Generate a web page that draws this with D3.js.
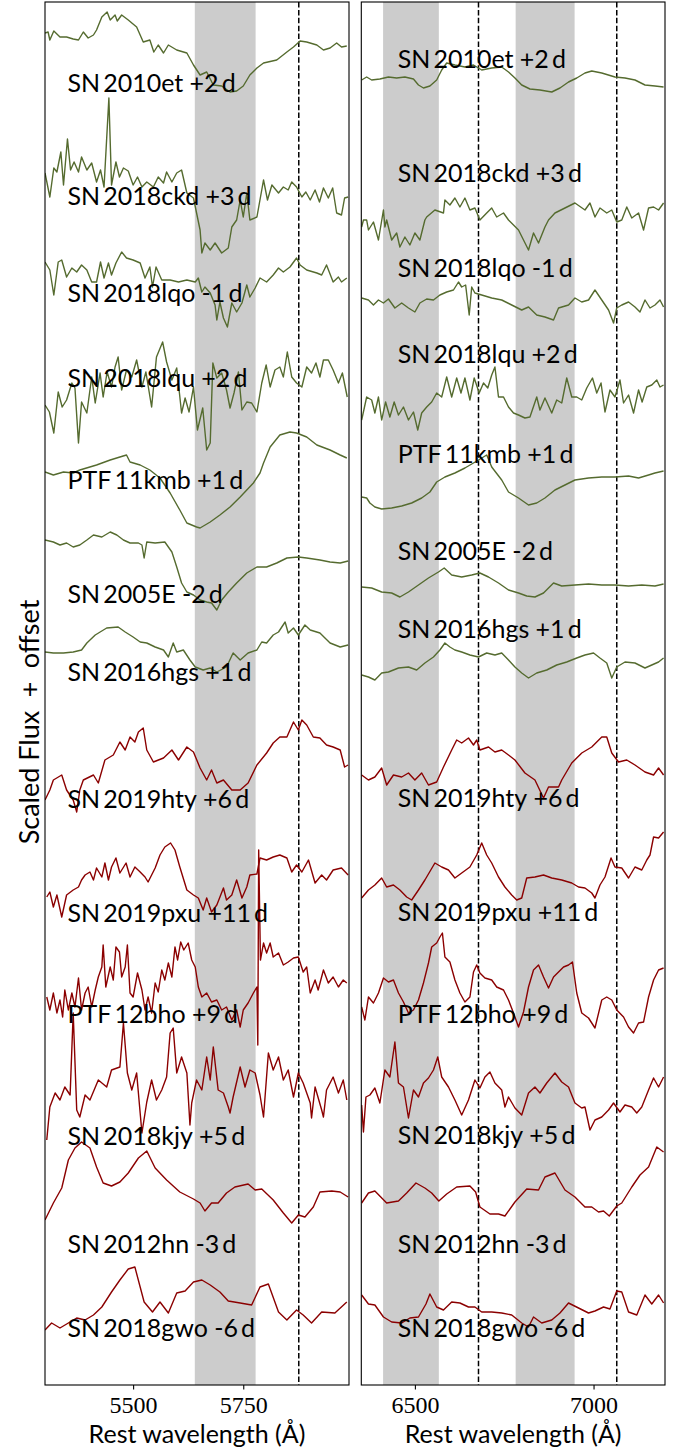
<!DOCTYPE html>
<html><head><meta charset="utf-8">
<script src="https://cdn.jsdelivr.net/npm/d3@7"></script>
<style>body{margin:0;background:#fff;} svg{display:block}</style>
</head><body><svg id="c" width="680" height="1453"></svg>
<script>
// ---------- DATA ----------
const names = ["SN 2010et","SN 2018ckd","SN 2018lqo","SN 2018lqu","PTF 11kmb","SN 2005E","SN 2016hgs","SN 2019hty","SN 2019pxu","PTF 12bho","SN 2018kjy","SN 2012hn","SN 2018gwo"];
const phases = ["+2","+3","-1","+2","+1","-2","+1","+6","+11","+9","+5","-3","-6"];
const groups = ["g","g","g","g","g","g","g","r","r","r","r","r","r"];
const labelYLeft  = [129.3,118,108.3,99.8,89.6,78.2,70.4,57.7,46.3,36.2,24,13.2,4.8];
const labelYRight = [131.7,120.3,110.8,102.2,92.2,82.5,74.7,57.8,46.4,36.2,24.1,13.2,4.8];
const bandsLeft = [[5640,5778]];
const bandsRight = [[6411,6567],[6782,6947]];
const linesLeft = [5876];
const linesRight = [6678,7065];
const ticksLeft = [5500,5750];
const ticksRight = [6500,7000];

// left panel spectra: [wavelength (Å), scaled flux + offset]
const L_2010et = [[5300,135.2],[5307,135.3],[5311,134.5],[5320,135.4],[5334,134.8],[5349,134.8],[5364,134.6],[5376,134.5],[5387,135.3],[5398,134.7],[5410,135],[5417,135.5],[5429,136.8],[5441,137.3],[5448,136.5],[5459,137],[5464,136.4],[5474,137],[5489,136.5],[5508,135.8],[5523,134.3],[5538,134.5],[5547,133.3],[5557,134],[5569,133.2],[5580,134],[5599,133.5],[5622,133.2],[5637,132],[5652,131],[5667,131.3],[5682,130],[5701,129.9],[5720,129.3],[5735,129.4],[5750,129.9],[5765,131],[5781,131.7],[5796,132.2],[5826,132.5],[5849,133.3],[5864,133.8],[5879,134.4],[5894,134.3],[5917,134],[5932,133.5],[5947,133.7],[5962,134.2],[5973,133.8],[5985,133.9]];
const L_2018ckd = [[5300,121.2],[5311,118.8],[5320,121.7],[5327,121.3],[5336,123.3],[5342,120],[5351,124.6],[5358,121.5],[5366,122.3],[5376,121.3],[5383,122.8],[5395,121.5],[5406,122.2],[5417,120.3],[5426,121.5],[5434,119.8],[5445,128.7],[5451,120],[5461,122.3],[5469,120.8],[5478,121.7],[5489,121.4],[5500,120],[5510,120.8],[5520,119.8],[5531,120.3],[5546,119.8],[5557,120.8],[5569,120.2],[5576,121.3],[5588,120.3],[5599,121.2],[5610,121.5],[5622,119.2],[5637,118.7],[5652,115.5],[5656,113.2],[5663,114.2],[5675,113.5],[5686,114.2],[5701,113.2],[5716,113.7],[5724,115.8],[5735,116.5],[5743,118.5],[5750,116.8],[5758,119.2],[5765,116.5],[5781,116.8],[5796,120.5],[5805,118.5],[5815,120],[5830,119.2],[5841,119.8],[5852,119.5],[5860,120.3],[5871,119.8],[5883,118.8],[5892,119.3],[5902,118.5],[5913,119.5],[5923,118.3],[5932,119.7],[5943,118.7],[5953,119.7],[5962,117.2],[5973,117],[5980,118.7],[5988,118.8]];
const L_2018lqo = [[5300,112.3],[5311,111.5],[5320,109],[5330,112.3],[5338,112.5],[5349,110.8],[5361,111.7],[5372,111.3],[5383,112],[5395,111.5],[5406,110.3],[5417,110.3],[5426,112.3],[5434,110.7],[5444,112.2],[5451,111],[5461,112.2],[5474,113.3],[5485,112.7],[5500,112.5],[5516,112.2],[5527,110.7],[5538,111.8],[5544,109.8],[5552,111.8],[5565,110.5],[5584,110.5],[5603,110.3],[5622,110.5],[5641,110.3],[5648,110.7],[5656,109.3],[5663,109.8],[5675,109.2],[5686,108],[5690,106.5],[5697,108.3],[5705,106.7],[5714,105.8],[5724,108.2],[5735,107.3],[5747,108.2],[5758,110],[5765,108.8],[5777,109.7],[5788,110.7],[5803,110.3],[5818,111],[5830,111.7],[5841,111.3],[5856,111.8],[5871,112.7],[5879,112],[5894,111.5],[5917,111.2],[5928,111],[5939,112],[5954,110.3],[5966,110.8],[5973,110.3],[5985,110.7]];
const L_2018lqu = [[5300,98],[5310,97.3],[5320,95.2],[5330,99.3],[5339,97.8],[5349,98.5],[5361,100.2],[5368,99.7],[5376,94.2],[5383,98.3],[5395,97.2],[5406,100.8],[5414,98.2],[5425,101.2],[5432,98.8],[5441,101.3],[5451,99.8],[5459,101.8],[5466,102.8],[5474,99.5],[5485,101.5],[5497,100.8],[5508,102.5],[5520,99.8],[5529,101.3],[5542,97.8],[5553,102.8],[5567,104.3],[5576,102.3],[5588,100.5],[5599,101.7],[5610,97.2],[5618,98.7],[5627,97.3],[5637,99.8],[5646,95.5],[5658,97.7],[5667,93.5],[5675,94.2],[5681,102.2],[5690,100.7],[5701,101.2],[5712,99.5],[5720,97.7],[5729,99.2],[5739,101.3],[5747,97.5],[5758,98.3],[5769,98.2],[5781,97.3],[5792,100.2],[5802,102],[5811,99.8],[5822,101.5],[5833,101.8],[5841,100.8],[5850,103.3],[5860,100.8],[5871,100.2],[5883,99.8],[5894,101.8],[5905,101.2],[5915,102.2],[5924,100.8],[5932,102.5],[5943,102.5],[5954,101.5],[5966,100.2],[5975,101.2],[5986,98.8]];
const L_11kmb = [[5300,91.3],[5319,91],[5342,91.3],[5364,91.2],[5379,91.5],[5417,92],[5448,92.5],[5470,92.8],[5485,93],[5493,92.3],[5516,92],[5538,91.5],[5561,90.7],[5584,89.2],[5606,87.5],[5622,86.2],[5644,85.8],[5652,85.7],[5675,86.3],[5697,87],[5720,87.8],[5743,88.8],[5773,90.2],[5788,91.2],[5796,92.2],[5811,93.8],[5833,95],[5856,95.3],[5871,95.2],[5894,94.8],[5917,94],[5947,93.5],[5970,93],[5985,92.7]];
const L_2005E = [[5300,84.5],[5319,84.3],[5334,84],[5349,84.2],[5364,83.8],[5379,84],[5395,84.5],[5410,85],[5429,84.8],[5448,85.3],[5463,85],[5478,84.5],[5493,84.2],[5512,84.2],[5520,84],[5525,82.7],[5531,84.3],[5550,84.2],[5572,84.3],[5588,83.3],[5599,81.8],[5610,80.2],[5622,79.3],[5637,79],[5652,78.5],[5667,78.3],[5678,78.2],[5690,77.5],[5701,78.5],[5716,79.3],[5735,80.2],[5758,81.2],[5781,81.8],[5803,81.8],[5826,82.2],[5849,82.7],[5875,82.8],[5894,82.7],[5924,82.5],[5947,82.3],[5970,82.2],[5988,82.4]];
const L_2016hgs = [[5300,73.3],[5319,73.2],[5342,73.2],[5364,73.3],[5383,73.5],[5395,74.2],[5414,75],[5440,75.7],[5466,75.8],[5482,75.3],[5500,74.8],[5516,74.3],[5531,74.2],[5550,73.8],[5569,73.5],[5580,72.8],[5591,74.2],[5599,73.3],[5614,73.5],[5629,72.5],[5641,71.8],[5659,71.5],[5675,71.7],[5690,71.3],[5712,71.8],[5727,73.2],[5743,72.5],[5761,73.2],[5781,73.5],[5792,74.3],[5803,74.2],[5818,75],[5830,75.3],[5845,76.3],[5852,75.2],[5864,75.7],[5875,75],[5890,76],[5902,75.5],[5924,75.2],[5947,74.2],[5970,73.8],[5988,74]];
const L_2019hty = [[5300,58.5],[5311,59.5],[5319,60.5],[5338,61],[5349,59.5],[5364,58.5],[5372,57.3],[5379,59.5],[5387,60.5],[5410,61],[5421,60.2],[5436,62.5],[5455,63],[5470,64.3],[5482,63.5],[5493,64.8],[5504,64.3],[5512,65.3],[5523,65.7],[5531,63.5],[5546,62.3],[5569,62.7],[5588,63.5],[5603,62.5],[5622,63.8],[5637,63.3],[5652,61.7],[5667,60.5],[5678,61.5],[5690,60.2],[5705,60.5],[5724,59.5],[5743,59.5],[5761,60.2],[5781,62],[5803,63.2],[5818,64.2],[5833,64.8],[5849,64.8],[5864,66.3],[5875,65.5],[5883,66.5],[5894,66],[5909,64.8],[5924,64.7],[5939,64],[5954,63.8],[5970,63.5],[5980,61.8],[5988,62]];
const L_2019pxu = [[5304,48.8],[5311,49.3],[5319,47.8],[5327,49],[5338,46.8],[5349,49],[5364,49.5],[5376,49.8],[5383,50.5],[5391,51],[5402,51.3],[5410,50.5],[5417,51.7],[5429,50.8],[5436,52.2],[5444,50.5],[5451,51.8],[5461,52.7],[5470,51.2],[5484,52.2],[5493,50.8],[5504,51.8],[5516,51.3],[5527,50.8],[5534,50.3],[5550,51.7],[5561,53],[5572,53.8],[5585,54.2],[5595,53.5],[5606,51.8],[5622,49.5],[5637,49],[5648,48.7],[5659,47.5],[5667,48.7],[5678,47.3],[5690,48],[5705,49.7],[5712,48.5],[5724,49],[5735,50.5],[5747,48.7],[5758,49.8],[5765,51],[5781,51.1],[5788,52.7],[5803,52.5],[5818,52.8],[5833,53],[5849,52.7],[5860,51.3],[5871,52],[5883,51.3],[5898,52.5],[5913,50.2],[5928,51],[5939,50.5],[5954,51.5],[5973,51.7],[5988,51]];
const L_12bho = [[5304,38.8],[5311,37.5],[5319,39.2],[5327,37.2],[5334,38.5],[5340,36.8],[5345,39.5],[5353,37.5],[5361,39.2],[5368,37.8],[5376,40.7],[5383,37.5],[5391,39.2],[5398,39.8],[5406,37.8],[5414,39.5],[5421,40.8],[5429,41.8],[5432,44],[5438,39.8],[5448,41.8],[5455,40.5],[5461,43.8],[5469,43.3],[5474,40.8],[5482,41.8],[5487,44],[5493,39.2],[5500,38.8],[5510,41.2],[5520,39.5],[5527,37.5],[5534,38.8],[5542,37.2],[5550,40.2],[5557,39.3],[5565,41.5],[5572,40.5],[5580,42.2],[5588,40.8],[5595,43.8],[5601,42.5],[5608,44.3],[5615,43.5],[5625,44.2],[5633,42.5],[5641,41.8],[5648,39.8],[5656,38.8],[5667,39.2],[5678,38.3],[5690,38.5],[5701,37.5],[5712,37.8],[5724,36.5],[5735,37.5],[5743,35.8],[5750,37.5],[5761,38.2],[5773,39.2],[5781,39.8],[5783,34],[5785,53.5],[5789,42.5],[5796,44.2],[5803,43.2],[5811,44.2],[5818,42.8],[5830,43.2],[5841,42],[5852,42.3],[5864,42.7],[5875,42.8],[5886,41.3],[5894,41.8],[5902,39.2],[5913,40.5],[5920,39.5],[5932,41.5],[5943,40.2],[5954,40.8],[5966,39.8],[5977,40.5],[5985,40.2]];
const L_2018kjy = [[5304,24.5],[5311,27.8],[5323,29.2],[5334,28.5],[5345,29.8],[5357,29],[5364,37.2],[5372,27.5],[5379,26.8],[5391,29],[5402,28.5],[5421,30.5],[5440,29.8],[5451,31.5],[5470,31.8],[5478,36.2],[5487,31.2],[5497,29.5],[5508,31.2],[5520,25.2],[5531,28.3],[5542,30.5],[5553,28.5],[5565,29.5],[5576,30.8],[5584,35.2],[5591,35.7],[5599,31.2],[5610,32.8],[5622,31.2],[5629,26],[5633,28.2],[5644,30.5],[5656,29.5],[5667,32.8],[5675,30.5],[5682,33.8],[5693,29.5],[5705,29.2],[5716,27.8],[5720,27.2],[5727,28.8],[5743,31.8],[5754,29.8],[5765,31.5],[5777,31.2],[5788,29],[5796,26.8],[5807,33.2],[5818,31.5],[5830,32.8],[5841,30.5],[5852,31.5],[5864,28.8],[5875,31.2],[5886,30.2],[5902,28.2],[5905,26.7],[5913,29.8],[5928,27.5],[5932,26.8],[5939,29.5],[5954,30.8],[5966,29.2],[5977,30.5],[5985,28.5]];
const L_2012hn = [[5300,16.5],[5319,18.2],[5338,19.7],[5353,22.5],[5368,23.7],[5383,24.3],[5402,23.7],[5417,21.8],[5432,20.2],[5451,19.9],[5470,20.3],[5489,21.2],[5512,22.7],[5531,23.4],[5550,21.7],[5576,20.5],[5606,19.3],[5637,18.6],[5652,18.2],[5663,17.4],[5678,18.2],[5693,18.2],[5712,19.2],[5731,19.8],[5761,20.1],[5777,19.5],[5792,19.6],[5818,18.5],[5841,17.2],[5860,16.2],[5875,17],[5890,16.8],[5909,17.8],[5924,19.3],[5951,19.4],[5970,19.3],[5988,18.8]];
const L_2018gwo = [[5300,5.5],[5315,6.2],[5334,5.7],[5353,6.2],[5372,6.7],[5391,6.5],[5410,7],[5429,7.8],[5451,9.3],[5470,10.5],[5489,11.6],[5504,11.8],[5516,9.8],[5525,8.3],[5544,7.3],[5561,8.3],[5580,7.2],[5599,9.2],[5618,9.4],[5637,10.3],[5656,10.5],[5675,10],[5697,9.3],[5716,8.4],[5743,8.2],[5769,8],[5788,9.8],[5807,10.1],[5830,7.3],[5849,6.5],[5871,7.5],[5886,7],[5905,6.2],[5928,7.3],[5958,7.2],[5985,8.3]];

// right panel spectra
const R_2010et = [[6351,130.5],[6365,130.8],[6379,130.5],[6402,130.6],[6426,130.8],[6449,130.7],[6472,130.8],[6496,130.6],[6510,130],[6524,129.7],[6542,129.9],[6561,130.5],[6575,131.5],[6589,132.2],[6612,132],[6640,131.8],[6664,132],[6687,131.5],[6715,131.7],[6743,131.8],[6762,131.3],[6780,130.7],[6799,130],[6822,129.6],[6850,129.5],[6883,129.3],[6906,129.7],[6930,130.3],[6953,130.7],[6976,131.2],[6995,131.4],[7023,131.2],[7060,130.8],[7088,130.7],[7116,130.5],[7144,130],[7172,129.9],[7196,129.8]];
const R_2018ckd = [[6351,115.8],[6356,116.5],[6365,116.5],[6370,115.5],[6384,116.3],[6398,114.5],[6412,117.5],[6416,115.8],[6421,116.5],[6435,114.5],[6449,115.2],[6458,113.8],[6472,114.8],[6486,114],[6500,115.2],[6514,114.5],[6528,116.5],[6533,116.8],[6556,117.5],[6580,117.2],[6584,118.5],[6598,118],[6612,118.7],[6626,117.8],[6640,118.7],[6654,117.5],[6668,117.7],[6682,116.5],[6701,117.2],[6715,117.7],[6729,116.8],[6748,117.2],[6762,116.5],[6776,116],[6790,115.5],[6804,114.5],[6818,113.5],[6832,115.2],[6846,114.2],[6864,115.8],[6874,116.5],[6892,117.2],[6920,117.7],[6948,118.2],[6976,117.5],[6990,118.2],[7004,116.8],[7018,117.7],[7037,117.2],[7051,117.5],[7065,116.3],[7079,116.5],[7093,117.8],[7107,116.7],[7126,117.2],[7140,115.5],[7154,117.7],[7168,117.8],[7182,117.5],[7196,118.2]];
const R_2018lqo = [[6351,108.7],[6370,108.5],[6384,108],[6398,108.5],[6412,108.2],[6426,108.6],[6444,107.7],[6463,108.2],[6482,107.7],[6500,107.3],[6514,108.2],[6533,108.6],[6552,108.5],[6570,109],[6589,109.3],[6608,109.5],[6622,110.3],[6631,109.8],[6642,110],[6652,107],[6659,109.8],[6668,109.2],[6687,109],[6715,108.7],[6743,108.5],[6771,108],[6799,107.5],[6818,107.8],[6841,107],[6864,106.8],[6888,106.5],[6902,107.7],[6930,108],[6948,108.7],[6967,108.3],[6986,108.5],[7004,109.5],[7023,108.5],[7042,107.5],[7056,106.2],[7065,107.7],[7079,108],[7098,108.3],[7116,107.8],[7130,107.3],[7144,108.5],[7158,107.7],[7172,108],[7186,108.5],[7196,107.8]];
const R_2018lqu = [[6351,96.5],[6365,98.8],[6379,98.5],[6388,97.2],[6398,98.8],[6407,96.5],[6418,98.3],[6430,96.8],[6442,98.3],[6454,97],[6468,97.8],[6482,96.5],[6496,97.3],[6508,95.5],[6519,97.2],[6533,97.8],[6547,98.3],[6561,99.2],[6575,98.8],[6589,100.8],[6603,98.8],[6617,100.7],[6629,99.2],[6640,100.7],[6654,98.5],[6666,100.7],[6680,99.2],[6692,100.2],[6704,99.7],[6715,101],[6724,101.8],[6734,98.8],[6748,98.8],[6762,97.8],[6776,97.2],[6790,97],[6808,96.7],[6822,96.8],[6841,98.8],[6850,97.5],[6864,98.7],[6883,97.2],[6897,98.5],[6911,98.2],[6925,100.7],[6939,98.8],[6953,98.8],[6967,98.5],[6981,99.7],[6997,100.7],[7009,99.2],[7021,100.2],[7032,97.3],[7046,99.5],[7060,98.8],[7074,100.5],[7084,98.2],[7098,99],[7112,97.2],[7126,99.5],[7136,98.3],[7149,99.8],[7163,100],[7177,100.5],[7186,99.8],[7196,100]];
const R_11kmb = [[6351,88.8],[6365,88.7],[6374,88.2],[6388,87.8],[6407,87.6],[6435,87.7],[6463,87.9],[6491,88.2],[6519,88.7],[6542,89.3],[6561,90.3],[6584,90.8],[6612,91.2],[6640,91.7],[6664,92.2],[6678,92.5],[6701,93],[6715,91.8],[6743,90.5],[6762,89.3],[6790,88.7],[6818,88],[6841,88.2],[6864,88.7],[6892,89.5],[6920,90],[6948,90.5],[6986,90.7],[7023,90.8],[7060,90.8],[7098,90.9],[7126,90.7],[7154,91],[7172,91.2],[7196,91.4]];
const R_2005E = [[6351,79.8],[6379,79.7],[6407,79.3],[6435,79.2],[6458,78.8],[6482,79.3],[6510,80],[6538,80.7],[6566,81.3],[6582,81.7],[6603,81],[6631,80.8],[6659,81],[6682,81.2],[6706,80.8],[6734,80.2],[6762,79.5],[6790,79.2],[6813,78.9],[6836,78.8],[6860,79.2],[6888,80.2],[6911,79.9],[6948,80],[6986,80.1],[7023,80],[7060,80],[7098,79.9],[7135,80],[7172,79.9],[7196,80.1]];
const R_2016hgs = [[6351,71],[6370,70.8],[6388,70.5],[6407,71.2],[6426,71.3],[6454,71.7],[6482,71.8],[6505,71.5],[6528,72.2],[6552,72.8],[6570,73.5],[6584,74.2],[6598,73.8],[6612,73.5],[6631,73.3],[6654,73],[6678,72.8],[6701,73.2],[6724,73],[6743,73.2],[6762,72.5],[6780,71.8],[6799,71.2],[6818,70.7],[6841,71.2],[6869,71.5],[6897,72],[6925,72.3],[6953,72.7],[6976,73],[7000,73.2],[7018,72.7],[7037,72.2],[7051,70.7],[7065,71.8],[7088,72.3],[7116,72.2],[7144,71.7],[7163,72],[7182,72.3],[7196,72.7]];
const R_2019hty = [[6351,61],[6370,60.5],[6388,60.8],[6407,61.7],[6421,60],[6440,61],[6463,60.8],[6482,61.2],[6500,60.5],[6519,61.2],[6538,60],[6561,60.3],[6580,61.8],[6603,63.5],[6617,64.5],[6631,64.2],[6650,64.7],[6664,64],[6673,64.5],[6682,63.5],[6706,63.8],[6724,63.3],[6743,63.5],[6762,63],[6780,62.5],[6808,61.2],[6836,60.5],[6860,58.7],[6874,59.8],[6902,59.8],[6911,60.5],[6939,62.2],[6967,63.2],[6995,63.8],[7023,64.8],[7037,64.8],[7051,63.2],[7070,62.3],[7093,62.5],[7116,62],[7144,61.3],[7168,61],[7182,61.7],[7196,61]];
const R_2019pxu = [[6351,48.7],[6370,49.5],[6388,50],[6407,50.7],[6421,49.8],[6440,50],[6458,49.5],[6477,48.8],[6491,48.5],[6510,49.5],[6528,50.5],[6556,52.2],[6575,51.8],[6594,51.5],[6612,50.7],[6631,51.2],[6654,51.8],[6673,53],[6687,54.2],[6701,53],[6715,52.2],[6734,50.8],[6752,49.8],[6771,49],[6785,48.5],[6799,48.7],[6813,50.7],[6836,50.8],[6860,51],[6883,50.7],[6911,50.5],[6939,50.2],[6958,49.8],[6976,49.7],[6995,49.2],[7004,48.7],[7018,50],[7032,50.8],[7049,52.7],[7060,51.8],[7079,51.7],[7098,50.7],[7116,51.8],[7135,51.5],[7149,52.5],[7158,53],[7168,54.8],[7182,54.7],[7196,55.3]];
const R_12bho = [[6351,37.8],[6360,36.5],[6370,38.8],[6384,38.2],[6398,39.2],[6412,40.7],[6426,40.3],[6440,40.5],[6454,39.2],[6468,38.3],[6482,37.2],[6496,37.5],[6510,38.5],[6524,40.2],[6538,42.2],[6547,43.8],[6561,44.2],[6570,44.8],[6577,45.2],[6584,42.8],[6598,42.3],[6612,40.5],[6626,39.2],[6640,38.3],[6654,38.8],[6664,41.3],[6673,42],[6682,41.2],[6696,40.7],[6715,40.5],[6729,39.8],[6748,39.5],[6762,38.5],[6776,37.2],[6790,35.8],[6804,37.3],[6818,39.8],[6832,41.5],[6846,42],[6860,40.8],[6874,39.7],[6888,40.8],[6902,41.3],[6916,41.8],[6930,42],[6941,42.3],[6953,39.2],[6967,37.2],[6986,36.7],[7004,35.7],[7023,38.5],[7037,38.8],[7051,38.5],[7065,37.5],[7084,36.8],[7098,35.8],[7112,35.2],[7126,36.2],[7140,36.3],[7154,38.8],[7168,40.5],[7182,41.5],[7196,41.7]];
const R_2018kjy = [[6351,28],[6356,25.3],[6363,28.8],[6374,29],[6388,29.7],[6402,28.2],[6416,31.5],[6430,30.8],[6444,34.3],[6454,30.2],[6468,29.8],[6482,26.7],[6496,29.5],[6510,28.8],[6524,30.2],[6538,30.7],[6552,31.5],[6564,32.8],[6575,30.8],[6594,29.8],[6612,28.5],[6631,27],[6650,28.5],[6668,30.5],[6682,29.7],[6696,30.8],[6710,31.3],[6724,30.2],[6743,29.5],[6752,27.8],[6762,28.8],[6780,27.7],[6799,27],[6818,29.2],[6836,29.8],[6850,29.2],[6869,30.2],[6892,31.2],[6911,30.3],[6930,29.8],[6948,28.2],[6967,27.7],[6976,27.8],[6990,25.5],[7004,26.5],[7023,26.8],[7042,27.5],[7056,28.2],[7074,27.3],[7088,28],[7107,27.8],[7121,27.2],[7135,27.8],[7154,29.5],[7168,30.7],[7182,29.8],[7196,30.8]];
const R_2012hn = [[6351,18.2],[6370,19.2],[6388,19.4],[6421,18.2],[6454,18.4],[6477,19.2],[6503,20.2],[6528,19.7],[6547,19.2],[6567,18.4],[6589,19.1],[6617,19.8],[6654,19.9],[6670,19.3],[6682,17.8],[6710,17.1],[6734,17.1],[6752,16.9],[6780,18.3],[6813,19.6],[6846,19.5],[6864,20.8],[6892,21.2],[6920,19.5],[6948,18.8],[6976,17.8],[6995,17.8],[7014,17.3],[7028,17.4],[7044,16.9],[7065,17.9],[7079,18.2],[7107,19.8],[7130,21],[7154,21.8],[7177,23.8],[7196,23.3]];
const R_2018gwo = [[6351,9],[6370,8.1],[6388,8],[6412,6.8],[6435,6.3],[6463,6.2],[6486,6.7],[6510,6.8],[6531,8.1],[6542,9.1],[6561,7.8],[6580,7.5],[6603,8.3],[6626,8.2],[6650,7.8],[6668,7.8],[6687,7.3],[6715,7.3],[6743,7.2],[6771,7],[6799,6.2],[6818,5.8],[6832,6.8],[6855,6.2],[6883,6.5],[6906,7.2],[6930,8.2],[6958,7.7],[6986,7.2],[7004,7.4],[7028,7.8],[7046,7.6],[7065,9.4],[7079,9.3],[7098,7.3],[7121,7],[7144,9],[7163,8.1],[7182,9],[7196,8.2]];

const leftSpectra = [L_2010et,L_2018ckd,L_2018lqo,L_2018lqu,L_11kmb,L_2005E,L_2016hgs,L_2019hty,L_2019pxu,L_12bho,L_2018kjy,L_2012hn,L_2018gwo];
const rightSpectra = [R_2010et,R_2018ckd,R_2018lqo,R_2018lqu,R_11kmb,R_2005E,R_2016hgs,R_2019hty,R_2019pxu,R_12bho,R_2018kjy,R_2012hn,R_2018gwo];

// ---------- DRAW ----------
const svg = d3.select("#c");
const colors = {g:"#556b2f", r:"#8b0000"};
const sansFont = "Lato, 'DejaVu Sans', sans-serif";
const serifFont = "'Liberation Serif', 'DejaVu Serif', serif";
const y = d3.scaleLinear().domain([0,138.3]).range([1385,2]);
const panels = [
  {x0:45, x1:349, domain:[5300,5990], ticks:ticksLeft, bands:bandsLeft, lines:linesLeft, spectra:leftSpectra, labelX:5351, labelY:labelYLeft},
  {x0:361.3, x1:665, domain:[6350,7200], ticks:ticksRight, bands:bandsRight, lines:linesRight, spectra:rightSpectra, labelX:6452, labelY:labelYRight}
];
const T = "\u2009";
panels.forEach((p,pi)=>{
  const x = d3.scaleLinear().domain(p.domain).range([p.x0,p.x1]);
  const g = svg.append("g");
  const cid = "clip"+pi;
  svg.append("clipPath").attr("id",cid).append("rect")
    .attr("x",p.x0).attr("y",y.range()[1]).attr("width",p.x1-p.x0).attr("height",y.range()[0]-y.range()[1]);
  const inner = g.append("g").attr("clip-path",`url(#${cid})`);
  inner.selectAll("rect.band").data(p.bands).join("rect")
    .attr("x",d=>x(d[0])).attr("width",d=>x(d[1])-x(d[0]))
    .attr("y",y.range()[1]).attr("height",y.range()[0]-y.range()[1])
    .attr("fill","#cccccc");
  inner.selectAll("line.vl").data(p.lines).join("line")
    .attr("x1",d=>x(d)).attr("x2",d=>x(d))
    .attr("y1",y.range()[1]).attr("y2",y.range()[0])
    .attr("stroke","#000").attr("stroke-width",1.5).attr("stroke-dasharray","5.5,2.4");
  const line = d3.line().x(d=>x(d[0])).y(d=>y(d[1]));
  inner.selectAll("path.spec").data(p.spectra).join("path")
    .attr("d",line).attr("fill","none")
    .attr("stroke",(d,i)=>colors[groups[i]]).attr("stroke-width",1.4)
    .attr("stroke-linejoin","round");
  g.selectAll("text.lab").data(names).join("text")
    .attr("x",x(p.labelX)).attr("y",(d,i)=>y(p.labelY[i]))
    .attr("font-family",sansFont).attr("font-size",25).attr("fill","#000")
    .text((d,i)=>d.replace(" ",T)+"\u2005"+phases[i]+T+"d");
  // frame
  g.append("rect").attr("x",p.x0).attr("y",y.range()[1]).attr("width",p.x1-p.x0)
    .attr("height",y.range()[0]-y.range()[1]).attr("fill","none").attr("stroke","#000").attr("stroke-width",1.1);
  // x axis
  const ax = g.append("g").attr("transform",`translate(0,${y.range()[0]})`)
    .call(d3.axisBottom(x).tickValues(p.ticks).tickSize(4.5).tickPadding(6).tickFormat(d3.format("d")));
  ax.select(".domain").remove();
  ax.selectAll("line").attr("stroke","#000").attr("stroke-width",1.1);
  ax.selectAll("text").attr("font-family",serifFont).attr("font-size",24).attr("fill","#000").attr("dy","0.71em");
  g.append("text").attr("x",(p.x0+p.x1)/2).attr("y",1443)
    .attr("text-anchor","middle").attr("font-family",sansFont).attr("font-size",25).attr("fill","#000")
    .text("Rest wavelength (Å)");
});
svg.append("text").attr("transform",`translate(39,722) rotate(-90)`)
  .attr("text-anchor","middle").attr("font-family",sansFont).attr("font-size",27).attr("fill","#000")
  .text("Scaled Flux\u2002+\u2002offset");
</script></body></html>
